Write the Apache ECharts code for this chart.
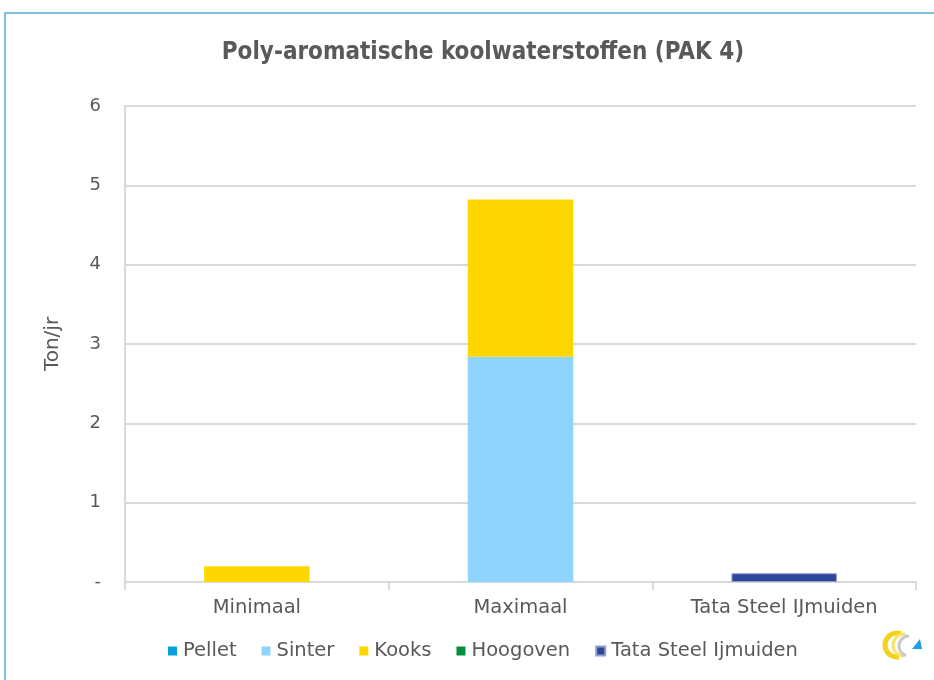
<!DOCTYPE html>
<html>
<head>
<meta charset="utf-8">
<script src="https://cdn.jsdelivr.net/npm/echarts@6/dist/echarts.min.js"></script>
<style>
  html, body { margin: 0; padding: 0; background: #fff; }
  #main { width: 934px; height: 680px; }
</style>
</head>
<body>
<div id="main"></div>
<script>
var categories = ['Minimaal', 'Maximaal', 'Tata Steel IJmuiden'];
var yTicks = ['-', '1', '2', '3', '4', '5', '6'];
var pellet = [0, 0, 0];
var sinter = [0, 2.84, 0];
var kooks = [0.2, 1.98, 0];
var hoogoven = [0, 0, 0];
var tata = [0, 0, 0.11];

var fontFam = 'DejaVu Sans';
var myChart = echarts.init(document.getElementById('main'));

// zero values are left out so that empty stack pieces draw nothing
function bar(name, data, color, border) {
    return {
        name: name,
        type: 'bar',
        stack: 'total',
        barWidth: '40%',
        data: data.map(function (v) { return v === 0 ? '-' : v; }),
        itemStyle: { color: color, borderColor: border || color, borderWidth: border ? 1 : 0 }
    };
}

option = {
    animation: false,
    title: {
        text: 'Poly-aromatische koolwaterstoffen (PAK 4)',
        left: 478,
        top: 36,
        textAlign: 'center',
        textStyle: { fontFamily: 'DejaVu Sans Condensed', fontSize: 24, fontWeight: 'bold', color: '#595959' }
    },
    graphic: [
        {
            type: 'polyline',
            shape: { points: [[5, 680], [5, 13], [934, 13]] },
            style: { stroke: '#5aa9d6', lineWidth: 1.5, fill: null }
        },
        {
            type: 'arc',
            shape: { cx: 897, cy: 645, r: 12, startAngle: Math.PI * 0.45, endAngle: Math.PI * 1.6 },
            style: { stroke: '#f2d21b', lineWidth: 5, fill: null }
        },
        {
            type: 'arc',
            shape: { cx: 904, cy: 645, r: 11, startAngle: Math.PI * 0.5, endAngle: Math.PI * 1.55 },
            style: { stroke: '#f7e36a', lineWidth: 3, fill: null }
        },
        {
            type: 'arc',
            shape: { cx: 909, cy: 646, r: 10, startAngle: Math.PI * 1.5, endAngle: Math.PI * 0.6, clockwise: false },
            style: { stroke: '#c8c8c8', lineWidth: 3, fill: null }
        },
        {
            type: 'polygon',
            shape: { points: [[912, 649], [922, 649], [920, 639]] },
            style: { fill: '#1aa0e0' }
        }
    ],
    legend: {
        bottom: 14,
        left: 163,
        itemWidth: 9,
        itemHeight: 9,
        itemGap: 25,
        icon: 'rect',
        textStyle: { fontFamily: fontFam, fontSize: 19.5, color: '#595959', padding: [0, 0, 0, 1] },
        data: ['Pellet', 'Sinter', 'Kooks', 'Hoogoven', 'Tata Steel Ijmuiden']
    },
    grid: { left: 125, right: 18, top: 106, bottom: 98 },
    xAxis: {
        type: 'category',
        data: categories,
        axisLine: { lineStyle: { color: '#d9d9d9', width: 2 } },
        axisTick: { show: true, length: 8, lineStyle: { color: '#d9d9d9', width: 2 } },
        axisLabel: { fontFamily: fontFam, fontSize: 19.5, color: '#595959', margin: 16 }
    },
    yAxis: {
        type: 'value',
        min: 0,
        max: 6,
        interval: 1,
        name: 'Ton/jr',
        nameLocation: 'middle',
        nameGap: 62,
        nameTextStyle: { fontFamily: fontFam, fontSize: 20, color: '#595959' },
        axisLine: { show: true, lineStyle: { color: '#d9d9d9', width: 2 } },
        axisTick: { show: false },
        splitLine: { lineStyle: { color: '#d9d9d9', width: 2 } },
        axisLabel: {
            fontFamily: fontFam, fontSize: 18, color: '#595959', margin: 24,
            formatter: function (v) { return yTicks[Math.round(v)]; }
        }
    },
    series: [
        bar('Pellet', pellet, '#0aa0dc'),
        bar('Sinter', sinter, '#8fd3ff'),
        bar('Kooks', kooks, '#ffd700'),
        bar('Hoogoven', hoogoven, '#008f3a'),
        bar('Tata Steel Ijmuiden', tata, '#2e4697', '#8fa0d0')
    ]
};
myChart.setOption(option);
</script>
</body>
</html>
